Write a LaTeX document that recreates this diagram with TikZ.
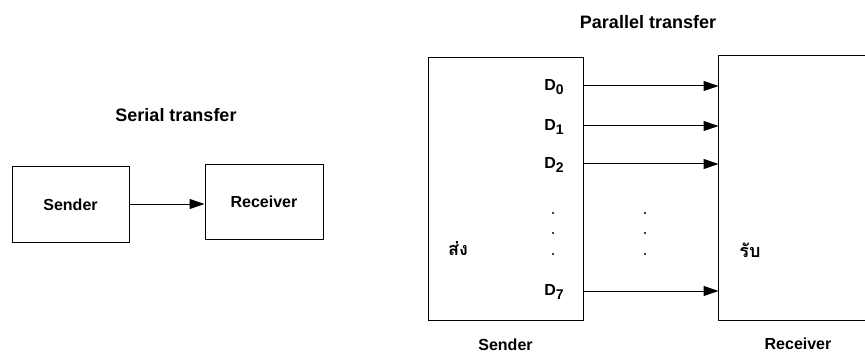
\documentclass[tikz,border=0pt]{standalone}
\usepackage{fontspec}
\setmainfont{Liberation Sans}
\newfontfamily\thaifont[Script=Thai]{Loma}
\usetikzlibrary{arrows.meta, positioning}

\newcommand{\dsub}[1]{D\raisebox{-2.2pt}{\fontsize{7}{7}\selectfont #1}}

\begin{document}
\begin{tikzpicture}[
    x = 0.5pt, y = -0.5pt,
    line width = 0.5pt,
    font = \bfseries\fontsize{8}{9}\selectfont,
    box/.style = {
        rectangle, draw=black, line width=0.5pt,
        inner sep = 0pt
    },
    title/.style = { font=\bfseries\fontsize{9}{10}\selectfont },
    dlab/.style  = { inner sep=1pt },
    thai/.style  = { font=\thaifont\bfseries\fontsize{9}{10}\selectfont },
    arr/.style   = { -{Triangle[length=7.5pt, width=5pt]}, line width=0.5pt },
]
\useasboundingbox (0,0) rectangle (865,352);

%% ── Serial transfer ─────────────────────────────────────────────────────
\node[title] (stitle) at (176,115) {Serial transfer};

\node[box, minimum width=58.5pt, minimum height=38pt] (ssend) at (70.5,204.5) {Sender};
\node[box, minimum width=59pt, minimum height=37pt] (srecv) at (264,202) {Receiver};

\coordinate (sline) at (0,204);
\draw[arr] (sline -| ssend.east) -- (sline -| srecv.west);

%% ── Parallel transfer ───────────────────────────────────────────────────
\node[title] (ptitle) at (648,22) {Parallel transfer};

\node[box, minimum width=77.5pt, minimum height=131pt] (psend) at (505.5,189) {};
% receiver runs off the right edge of the page: only three sides show
\node[box, draw=none, minimum width=73pt, minimum height=132pt] (precv) at (792,188) {};
\draw (precv.north east) -- (precv.north west) -- (precv.south west) -- (precv.south east);

\node[thai] (song) at (458,249) {ส่ง};
\node[thai] (rap)  at (750,250) {รับ};

\coordinate (rbase) at (798,320);
\node[below=5.5pt of psend] (slab) {Sender};
\node[below=5.5pt of rbase] (rlab) {Receiver};

%% data lines
\node[dlab] (d0) at (554,87)  {\dsub{0}};
\node[dlab] (d1) at (554,127) {\dsub{1}};
\node[dlab] (d2) at (554,165) {\dsub{2}};
\node[dlab] (d7) at (554,292) {\dsub{7}};

\foreach \d/\yy in {d0/86, d1/126, d2/164, d7/291} {
    \coordinate (l\d) at (0,\yy);
    \draw[arr] (l\d -| psend.east) -- (l\d -| precv.west);
}

%% dots
\foreach \yy in {213, 233, 254} {
    \fill (553,\yy) circle (0.6pt);
    \fill (645,\yy) circle (0.6pt);
}

\end{tikzpicture}
\end{document}
